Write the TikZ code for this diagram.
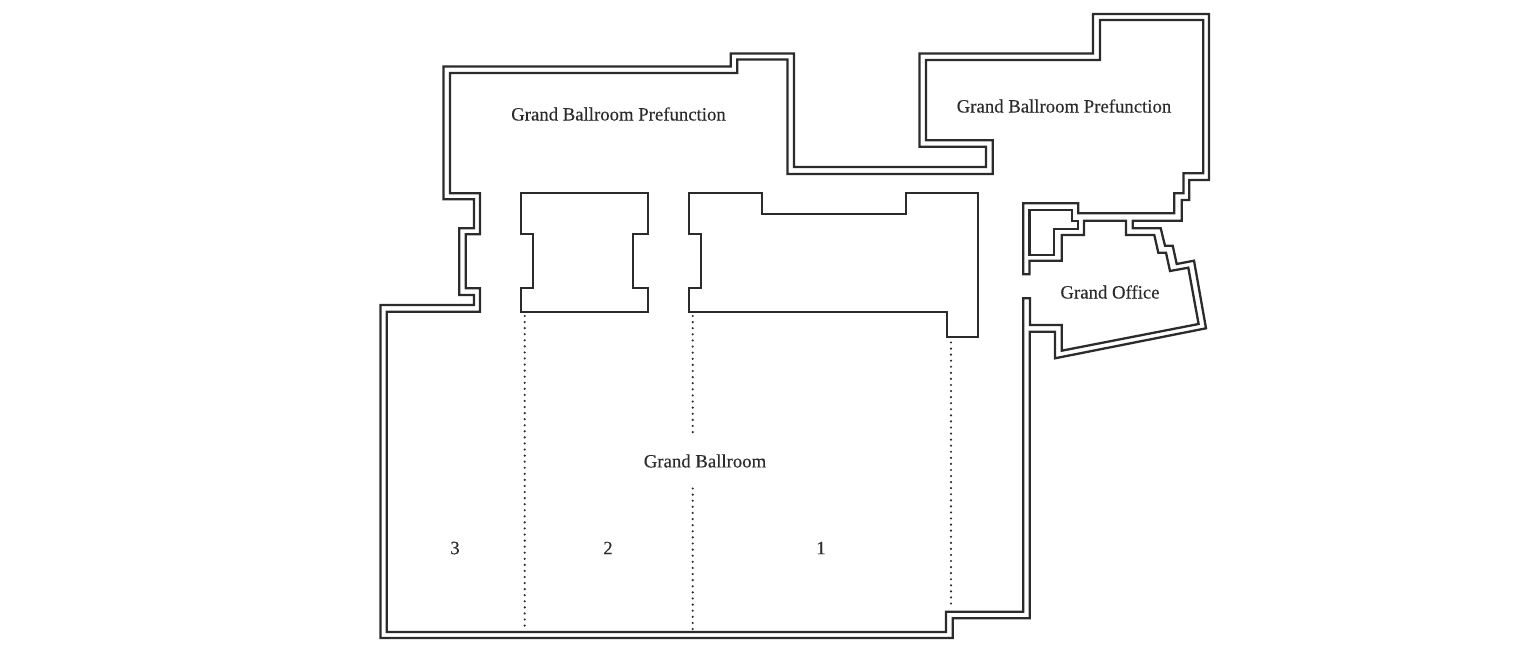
\documentclass[tikz,border=0pt]{standalone}
\usepackage{fontspec}
\setmainfont{Liberation Serif}
\newfontfamily\lblfont[FakeBold=0.25]{Liberation Serif}
\definecolor{ink}{HTML}{2B2B2B}
\tikzset{
  wall/.style={draw=ink,line width=2.3pt,line join=miter},
  partition/.style={draw=ink,line width=2.4pt,line cap=round,dash pattern=on 0pt off 6.07pt},
  partitionb/.style={partition,dash pattern=on 0pt off 6.11pt},
  lbl/.style={text=ink,font=\lblfont\fontsize{18.75}{20}\selectfont,inner sep=0pt,anchor=center}
}
\begin{document}
\begin{tikzpicture}[x=1pt,y=-1pt]
\useasboundingbox (0,0) rectangle (1536,668);
% outer wall line
\draw[wall] (443.5,66.5) -- (730.7,66.5) -- (730.7,53.5) -- (794,53.5) -- (794,167) -- (986,167) -- (986,146.7) -- (919.5,146.7) -- (919.5,53.5) -- (1093,53.5) -- (1093,14) -- (1209,14) -- (1209,180) -- (1189.3,180) -- (1189.3,200) -- (1181.7,200) -- (1181.7,220.7) -- (1132.7,220.7) -- (1132.7,228.3) -- (1160.7,228.3) -- (1165,245.7) -- (1172.7,245.7) -- (1176.7,264) -- (1194,260.7) -- (1206,328.3) -- (1055,358.3) -- (1055,331.7) -- (1029.7,331.7) -- (1029.7,618.3) -- (952.7,618.3) -- (952.7,638) -- (380.5,638) -- (380.5,305) -- (474,305) -- (474,295) -- (459.3,295) -- (459.3,228.3) -- (474,228.3) -- (474,199.3) -- (443.5,199.3) -- cycle;
% inner wall line
\draw[wall] (450,73) -- (737.3,73) -- (737.3,59.5) -- (787.5,59.5) -- (787.5,174) -- (992.7,174) -- (992.7,140.3) -- (926,140.3) -- (926,60) -- (1100,60) -- (1100,20) -- (1203.3,20) -- (1203.3,173.3) -- (1183.5,173.3) -- (1183.5,193.3) -- (1174.3,193.3) -- (1174.3,213.3) -- (1078.3,213.3) -- (1078.3,203.3) -- (1023.3,203.3) -- (1023.3,274.3) -- (1029.5,274.3) -- (1029.5,260.7) -- (1061.7,260.7) -- (1061.7,235) -- (1084,235) -- (1084,220.7) -- (1126,220.7) -- (1126,235) -- (1154.3,235) -- (1158.3,252.7) -- (1166,252.7) -- (1170,271) -- (1188.3,267.7) -- (1198.6,324) -- (1061.7,350.7) -- (1061.7,325) -- (1030,325) -- (1030,298.3) -- (1023.3,298.3) -- (1023.3,611.7) -- (946,611.7) -- (946,632) -- (386.7,632) -- (386.7,311.7) -- (480,311.7) -- (480,288.3) -- (465.7,288.3) -- (465.7,234.3) -- (480,234.3) -- (480,193.3) -- (450,193.3) -- cycle;
% closet
\draw[wall] (1029.5,210) -- (1071.7,210) -- (1071.7,220.7) -- (1078.3,220.7) -- (1078.3,229.3) -- (1054.3,229.3) -- (1054.3,255) -- (1029.5,255) -- cycle;
% blocks
\draw[wall] (520.7,193.3) -- (648.3,193.3) -- (648.3,234) -- (633.3,234) -- (633.3,288.3) -- (648.3,288.3) -- (648.3,311.7) -- (520.7,311.7) -- (520.7,288.3) -- (533.3,288.3) -- (533.3,234) -- (520.7,234) -- cycle;
\draw[wall] (688.7,193.3) -- (761.7,193.3) -- (761.7,213.7) -- (905.7,213.7) -- (905.7,193.3) -- (977.7,193.3) -- (977.7,336.7) -- (946.7,336.7) -- (946.7,311.7) -- (688.7,311.7) -- (688.7,288.3) -- (700.7,288.3) -- (700.7,234) -- (688.7,234) -- cycle;
% partitions
\coordinate (p1a) at (524.7,316); \coordinate (p1b) at (524.7,626);
\coordinate (p2a) at (692.7,316); \coordinate (p2b) at (692.7,436);
\coordinate (p3a) at (692.7,488.5); \coordinate (p3b) at (692.7,631);
\coordinate (p4a) at (951,342.5); \coordinate (p4b) at (951,607);
\draw[partition] (p1a) -- (p1b);
\draw[partitionb] (p2a) -- (p2b);
\draw[partitionb] (p3a) -- (p3b);
\draw[partition] (p4a) -- (p4b);
% labels
\node[lbl] (pf1) at (618.5,114) {Grand Ballroom Prefunction};
\node[lbl] (pf2) at (1064,106) {Grand Ballroom Prefunction};
\node[lbl] (off) at (1110,292) {Grand Office};
\node[lbl] (gb) at (705,461) {Grand Ballroom};
\node[lbl] (n3) at (455,548) {3};
\node[lbl] (n2) at (608,548) {2};
\node[lbl] (n1) at (821,548) {1};
\end{tikzpicture}
\end{document}
